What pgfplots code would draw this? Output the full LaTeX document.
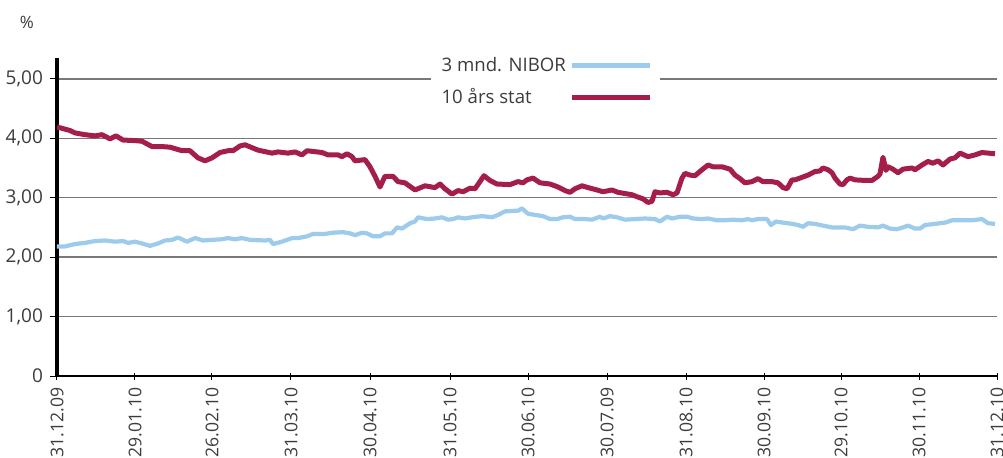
\documentclass[border=0pt]{standalone}
\usepackage{pgfplots}
\pgfplotsset{compat=1.18}
\usepackage{fontspec}
\setmainfont{Open Sans}
\definecolor{nibor}{RGB}{157,203,236}
\definecolor{stat}{RGB}{165,30,74}
\definecolor{txt}{RGB}{60,60,60}
\definecolor{gridc}{RGB}{120,120,120}

\pgfplotstableread{
x y
57 2.18
65 2.18
75 2.22
85 2.24
95 2.27
105 2.28
115 2.26
123 2.27
128 2.24
135 2.26
142 2.23
150 2.19
158 2.23
165 2.28
172 2.29
178 2.33
187 2.26
195 2.32
203 2.28
212 2.29
222 2.30
228 2.32
235 2.30
242 2.32
250 2.29
265 2.28
270 2.29
273 2.22
282 2.26
292 2.32
298 2.32
307 2.35
313 2.39
325 2.39
332 2.41
343 2.42
350 2.40
355 2.37
362 2.41
367 2.40
373 2.35
380 2.35
385 2.40
392 2.40
397 2.50
402 2.48
410 2.57
415 2.60
418 2.67
427 2.64
435 2.65
442 2.67
448 2.63
453 2.64
458 2.67
465 2.65
472 2.67
482 2.69
492 2.67
498 2.71
505 2.77
515 2.78
518 2.78
522 2.82
528 2.73
535 2.71
543 2.69
550 2.64
557 2.64
563 2.67
570 2.68
575 2.64
585 2.64
592 2.63
600 2.68
603 2.65
610 2.69
617 2.67
625 2.63
635 2.64
645 2.65
655 2.64
660 2.60
667 2.68
672 2.65
680 2.68
687 2.68
693 2.65
702 2.64
708 2.65
717 2.62
725 2.62
733 2.63
742 2.62
748 2.64
752 2.62
758 2.64
767 2.64
771 2.54
776 2.60
783 2.58
792 2.56
798 2.54
803 2.51
808 2.57
815 2.56
823 2.53
832 2.50
845 2.50
853 2.47
860 2.53
868 2.51
878 2.50
883 2.53
890 2.48
897 2.47
903 2.50
908 2.53
915 2.48
920 2.48
925 2.54
935 2.56
945 2.58
952 2.62
962 2.62
972 2.62
982 2.64
988 2.57
995 2.56
}\niborTable

\pgfplotstableread{
x y
57 4.19
70 4.13
75 4.09
85 4.06
95 4.04
102 4.06
110 3.99
116 4.04
123 3.97
135 3.96
142 3.95
152 3.86
162 3.86
170 3.85
182 3.79
190 3.79
198 3.67
205 3.62
212 3.67
220 3.76
228 3.79
233 3.79
240 3.87
245 3.89
258 3.80
272 3.75
278 3.77
288 3.75
295 3.77
302 3.72
307 3.79
322 3.76
328 3.72
338 3.72
342 3.69
347 3.74
352 3.69
355 3.62
365 3.64
370 3.52
375 3.36
380 3.18
385 3.36
393 3.36
398 3.27
405 3.25
415 3.13
425 3.20
435 3.17
440 3.23
445 3.15
452 3.06
458 3.12
463 3.10
470 3.16
475 3.15
484 3.37
490 3.29
497 3.23
510 3.22
518 3.27
523 3.25
527 3.30
533 3.33
540 3.25
550 3.23
558 3.18
565 3.12
570 3.09
575 3.15
582 3.20
588 3.17
597 3.13
603 3.10
612 3.13
618 3.09
625 3.07
632 3.05
638 3.01
643 2.98
648 2.92
652 2.94
655 3.10
660 3.08
667 3.09
673 3.05
677 3.08
682 3.33
685 3.41
690 3.38
695 3.37
702 3.47
708 3.55
713 3.52
722 3.52
730 3.48
735 3.38
740 3.32
745 3.25
752 3.27
758 3.32
763 3.27
772 3.27
778 3.25
783 3.17
787 3.15
792 3.30
795 3.30
800 3.33
808 3.38
815 3.44
820 3.45
823 3.50
828 3.47
832 3.42
835 3.33
840 3.23
843 3.22
847 3.30
850 3.33
855 3.30
865 3.29
872 3.29
878 3.36
880 3.40
883 3.68
886 3.46
888 3.52
893 3.48
898 3.42
903 3.48
912 3.50
915 3.47
922 3.55
928 3.61
933 3.58
938 3.62
943 3.55
950 3.65
955 3.67
960 3.75
968 3.69
975 3.72
982 3.76
988 3.75
995 3.74
}\statTable

\begin{document}
\begin{tikzpicture}
\begin{axis}[
  scale only axis,
  width=470pt, height=159pt,
  xmin=57, xmax=997,
  ymin=0, ymax=5.35,
  axis lines*=left,
  x axis line style={line width=1pt, black},
  y axis line style={line width=1.6pt, black},
  xtick={57,135,212,291,370,450,528,607,686,764,841,919,997},
  xticklabels={31.12.09,29.01.10,26.02.10,31.03.10,30.04.10,31.05.10,30.06.10,30.07.09,31.08.10,30.09.10,29.10.10,30.11.10,31.12.10},
  ytick={0,1,2,3,4,5},
  yticklabels={0,{1,00},{2,00},{3,00},{4,00},{5,00}},
  x tick label style={rotate=90, anchor=east, font=\fontsize{8.8}{10}\selectfont, text=txt, xshift=-0.5pt},
  y tick label style={font=\fontsize{9.5}{11}\selectfont, text=txt},
  xtick align=center,
  ytick align=outside,
  major tick length=3.5pt,
  tick style={black, line width=0.5pt},
  ymajorgrids,
  grid style={gridc, line width=0.7pt},
  ylabel={\%},
  every axis y label/.style={at={(axis description cs:-0.032,1.113)}, anchor=center, font=\fontsize{8.5}{10}\selectfont, text=txt},
  legend plot pos=right,
  legend cell align=left,
  legend style={at={(axis description cs:0.397,1.036)}, anchor=north west, draw=none, fill=white,
    font=\fontsize{9.3}{11}\selectfont, text=txt, row sep=3pt, inner xsep=3.5pt, inner ysep=3pt},
  legend image code/.code={\draw[#1] (0pt,0pt) -- (39pt,0pt);},
]
\addplot[nibor, line width=2.1pt, line join=round] table[x=x,y=y] {\niborTable};
\addlegendentry{3 mnd. NIBOR}
\addplot[stat, line width=2.5pt, line join=round] table[x=x,y=y] {\statTable};
\addlegendentry{10 års stat}
\end{axis}
\pgfresetboundingbox
\useasboundingbox (-28.5pt,-40.5pt) rectangle (473pt,188pt);
\end{tikzpicture}
\end{document}
